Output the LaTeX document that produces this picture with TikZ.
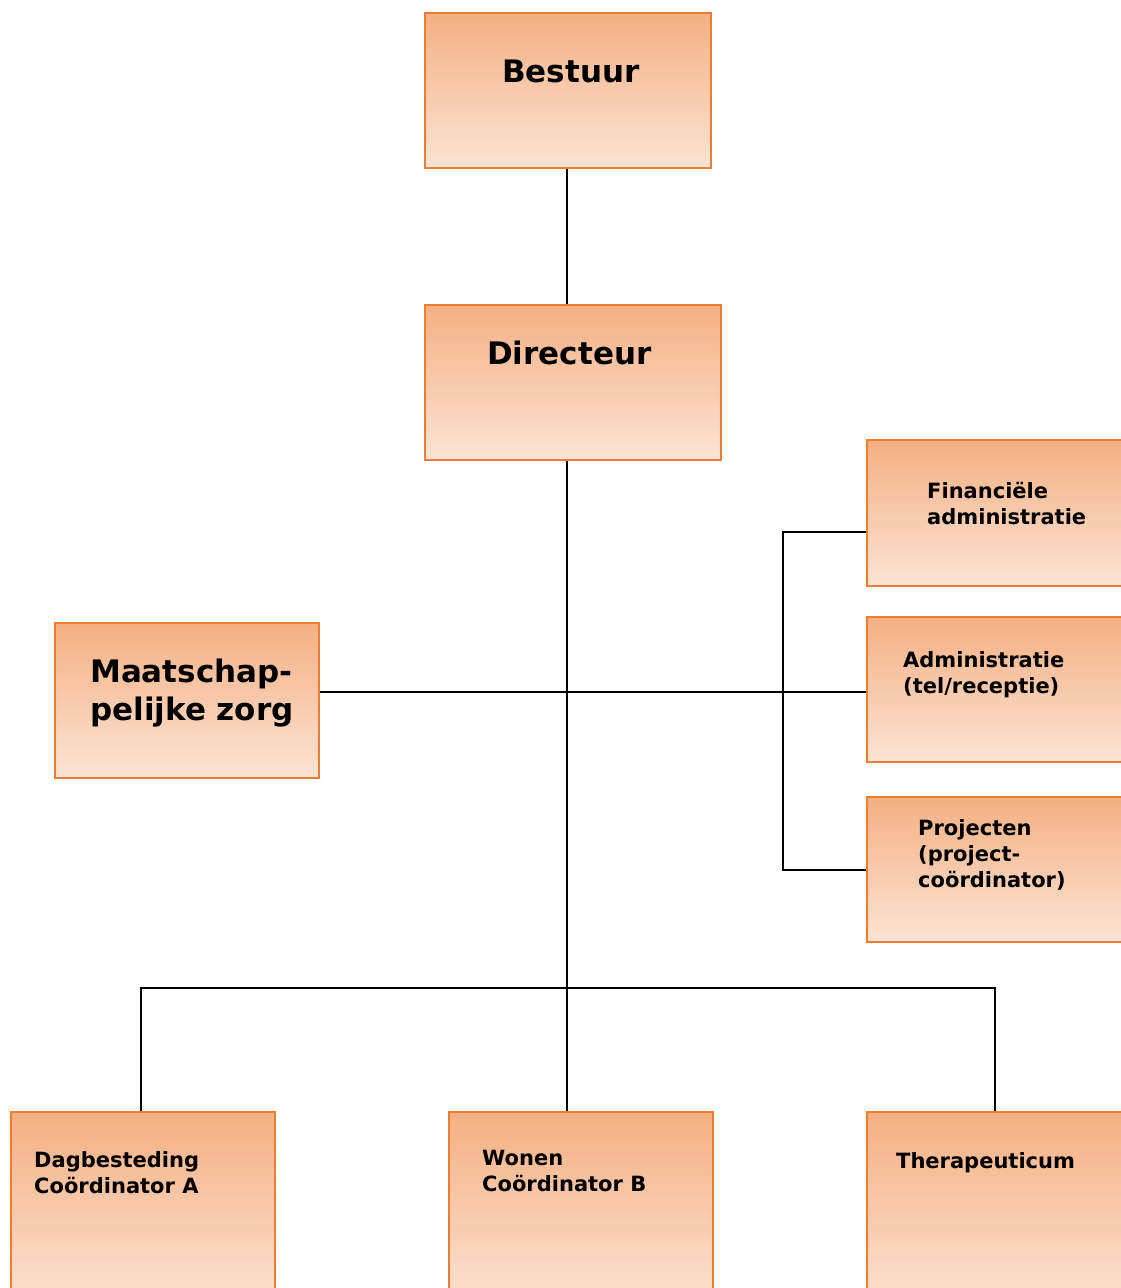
\documentclass[tikz,border=0pt]{standalone}
\usepackage{fontspec}
\setmainfont{DejaVu Sans}
\usetikzlibrary{positioning, calc}

\definecolor{boxline}{HTML}{ED7D31}
\definecolor{boxtop}{HTML}{F4B083}
\definecolor{boxbot}{HTML}{FBE4D5}

\begin{document}
\begin{tikzpicture}[x=1pt, y=-1pt,
  box/.style={draw=boxline, line width=2pt, top color=boxtop, bottom color=boxbot, inner sep=0pt},
  big/.style={font=\fontsize{31}{38}\selectfont\bfseries, anchor=base west, inner sep=0pt, align=left},
  small/.style={font=\fontsize{21}{26}\selectfont\bfseries, anchor=base west, inner sep=0pt, align=left},
  link/.style={line width=2pt}]
\useasboundingbox (0,0) rectangle (1120,1288);

% Top of the tree
\node[box, minimum width=286pt, minimum height=155pt] (bestuur) at (568,90.5) {};
\node[big] (tbestuur) at (502,82) {Bestuur};
\node[box, minimum width=296pt, minimum height=155pt] (directeur) at (573,382.5) {};
\node[big] (tdirecteur) at (487,364) {Directeur};

% Staff (text nodes sit on the baseline of their last line)
\node[box, minimum width=264pt, minimum height=155pt] (zorg) at (187,700.5) {};
\node[big] (tzorg) at (90,720) {Maatschap-\\pelijke zorg};
\node[box, minimum width=280pt, minimum height=146pt] (fin) at (1007,513) {};
\node[small] (tfin) at (927,524) {Financiële\\administratie};
\node[box, minimum width=280pt, minimum height=145pt] (adm) at (1007,689.5) {};
\node[small] (tadm) at (903,693) {Administratie\\(tel/receptie)};
\node[box, minimum width=280pt, minimum height=145pt] (proj) at (1007,869.5) {};
\node[small] (tproj) at (918,887) {Projecten\\(project-\\coördinator)};

% Bottom row
\node[box, minimum width=264pt, minimum height=200pt] (dag) at (143,1212) {};
\node[small] (tdag) at (34,1193) {Dagbesteding\\Coördinator A};
\node[box, minimum width=264pt, minimum height=200pt] (wonen) at (581,1212) {};
\node[small] (twonen) at (482,1191) {Wonen\\Coördinator B};
\node[box, minimum width=280pt, minimum height=200pt] (thera) at (1007,1212) {};
\node[small] (tthera) at (896,1168) {Therapeuticum};

% Connectors
\coordinate (hub) at (567,692);
\coordinate (fbus) at (783,532);
\coordinate (rbus) at (783,692);
\coordinate (lsplit) at (141,988);
\coordinate (rsplit) at (995,988);
\draw[link] (bestuur.south -| hub) -- (directeur.north -| hub);
\draw[link] (directeur.south -| hub) -- (wonen.north -| hub);
\draw[link] (zorg.east |- hub) -- (adm.west |- hub);
\draw[link] (fin.west |- fbus) -- (fbus) -- (rbus |- proj.west) -- (proj.west);
\draw[link] (dag.north -| lsplit) -- (lsplit) -- (rsplit) -- (thera.north -| rsplit);
\end{tikzpicture}
\end{document}
